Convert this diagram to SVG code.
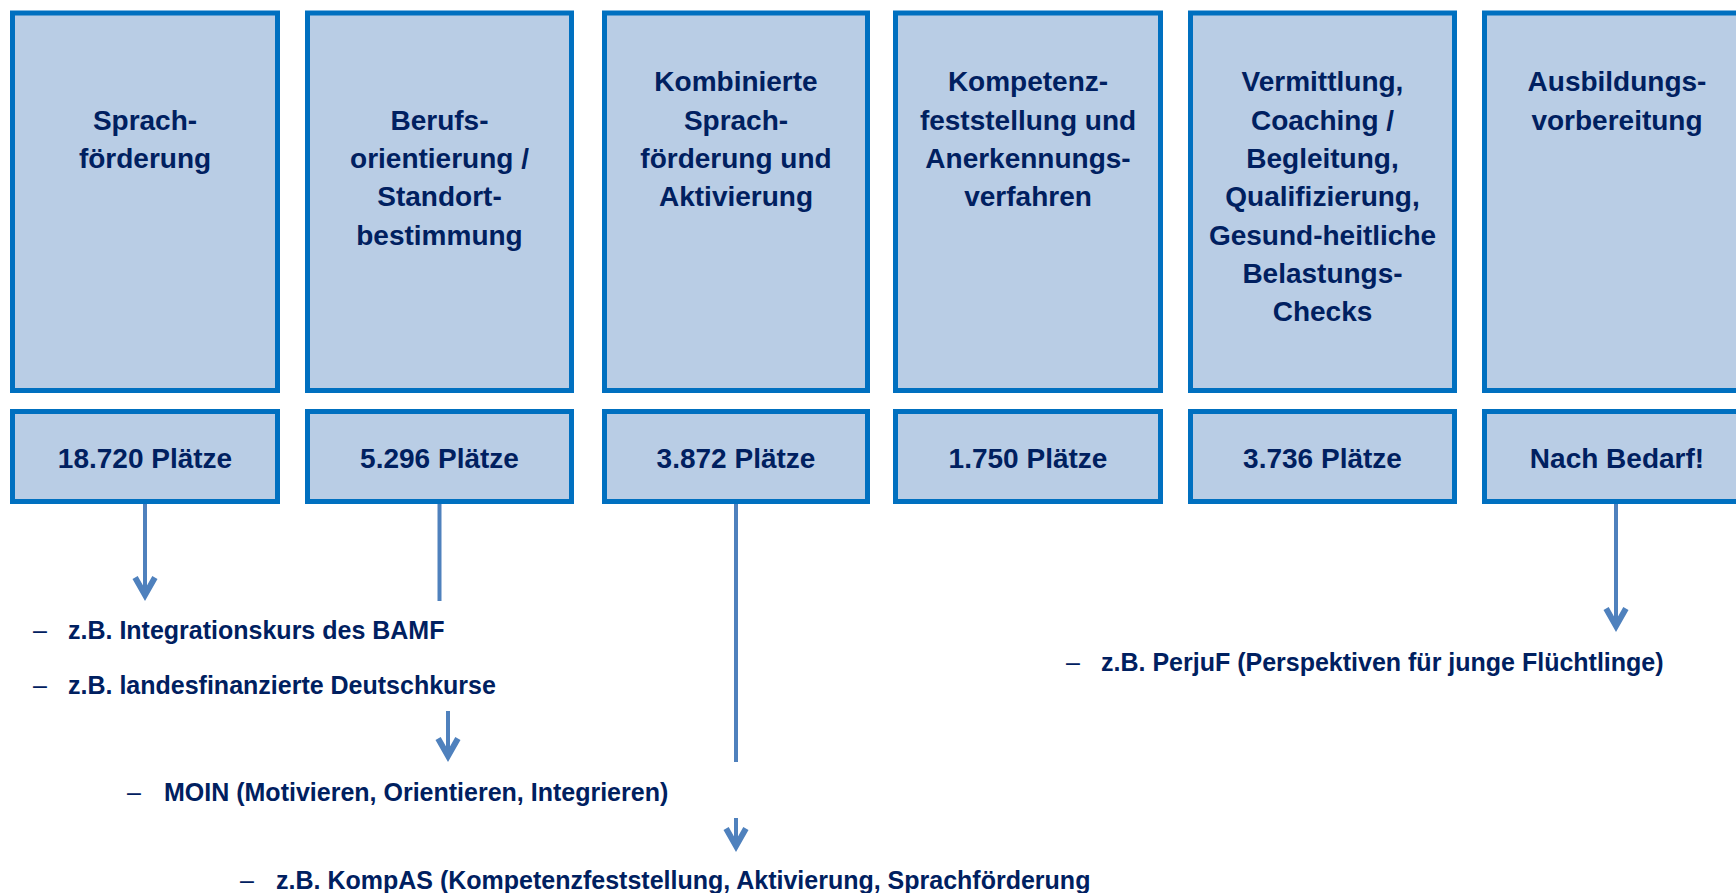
<svg xmlns="http://www.w3.org/2000/svg" width="1736" height="893" viewBox="0 0 1736 893">
  <style>
    .box { fill: #B9CDE5; stroke: #0070C0; stroke-width: 5; }
    .t { font-family: "Liberation Sans", Arial, sans-serif; font-weight: bold; font-size: 28px; fill: #002060; text-anchor: middle; }
    .li { font-family: "Liberation Sans", Arial, sans-serif; font-weight: bold; font-size: 25px; fill: #002060; }
    .dash { font-family: "Liberation Sans", Arial, sans-serif; font-weight: normal; font-size: 25px; fill: #002060; }
    .conn { stroke: #4F81BD; stroke-width: 4; fill: none; }
  </style>
  <defs>
    <marker id="arr" markerUnits="userSpaceOnUse" orient="auto" refX="-4" refY="0" markerWidth="30" markerHeight="30" overflow="visible">
      <polygon points="0,0 -22,-12.5 -25,-7.3 -12.1,0 -25,7.3 -22,12.5" fill="#4F81BD"/>
    </marker>
  </defs>
  <rect width="1736" height="893" fill="#FFFFFF"/>

  <g id="node-sprachfoerderung">
    <rect class="box" x="12.5" y="13" width="265" height="377.5"/>
    <text class="t" x="145" y="130">Sprach-</text>
    <text class="t" x="145" y="168">förderung</text>
    <rect class="box" x="12.5" y="411.5" width="265" height="90"/>
    <text class="t" x="145" y="468">18.720 Plätze</text>
  </g>

  <g id="node-berufsorientierung">
    <rect class="box" x="307.5" y="13" width="264" height="377.5"/>
    <text class="t" x="439.5" y="130">Berufs-</text>
    <text class="t" x="439.5" y="168">orientierung /</text>
    <text class="t" x="439.5" y="206">Standort-</text>
    <text class="t" x="439.5" y="245">bestimmung</text>
    <rect class="box" x="307.5" y="411.5" width="264" height="90"/>
    <text class="t" x="439.5" y="468">5.296 Plätze</text>
  </g>

  <g id="node-kombinierte">
    <rect class="box" x="604.5" y="13" width="263" height="377.5"/>
    <text class="t" x="736" y="91">Kombinierte</text>
    <text class="t" x="736" y="130">Sprach-</text>
    <text class="t" x="736" y="168">förderung und</text>
    <text class="t" x="736" y="206">Aktivierung</text>
    <rect class="box" x="604.5" y="411.5" width="263" height="90"/>
    <text class="t" x="736" y="468">3.872 Plätze</text>
  </g>

  <g id="node-kompetenz">
    <rect class="box" x="895.5" y="13" width="265" height="377.5"/>
    <text class="t" x="1028" y="91">Kompetenz-</text>
    <text class="t" x="1028" y="130">feststellung und</text>
    <text class="t" x="1028" y="168">Anerkennungs-</text>
    <text class="t" x="1028" y="206">verfahren</text>
    <rect class="box" x="895.5" y="411.5" width="265" height="90"/>
    <text class="t" x="1028" y="468">1.750 Plätze</text>
  </g>

  <g id="node-vermittlung">
    <rect class="box" x="1190.5" y="13" width="264" height="377.5"/>
    <text class="t" x="1322.5" y="91">Vermittlung,</text>
    <text class="t" x="1322.5" y="130">Coaching /</text>
    <text class="t" x="1322.5" y="168">Begleitung,</text>
    <text class="t" x="1322.5" y="206">Qualifizierung,</text>
    <text class="t" x="1322.5" y="245">Gesund-heitliche</text>
    <text class="t" x="1322.5" y="283">Belastungs-</text>
    <text class="t" x="1322.5" y="321">Checks</text>
    <rect class="box" x="1190.5" y="411.5" width="264" height="90"/>
    <text class="t" x="1322.5" y="468">3.736 Plätze</text>
  </g>

  <g id="node-ausbildung">
    <rect class="box" x="1484.5" y="13" width="265" height="377.5"/>
    <text class="t" x="1617" y="91">Ausbildungs-</text>
    <text class="t" x="1617" y="130">vorbereitung</text>
    <rect class="box" x="1484.5" y="411.5" width="265" height="90"/>
    <text class="t" x="1617" y="468">Nach Bedarf!</text>
  </g>

  <g id="connectors">
    <line class="conn" x1="145" y1="504" x2="145" y2="597" marker-end="url(#arr)"/>
    <line class="conn" x1="439.5" y1="504" x2="439.5" y2="601"/>
    <line class="conn" x1="448" y1="711" x2="448" y2="758" marker-end="url(#arr)"/>
    <line class="conn" x1="736" y1="504" x2="736" y2="762"/>
    <line class="conn" x1="736" y1="818" x2="736" y2="848" marker-end="url(#arr)"/>
    <line class="conn" x1="1616" y1="504" x2="1616" y2="628" marker-end="url(#arr)"/>
  </g>

  <g id="list-items">
    <text class="dash" x="33" y="639">–</text>
    <text class="li" x="68" y="639">z.B. Integrationskurs des BAMF</text>
    <text class="dash" x="33" y="694">–</text>
    <text class="li" x="68" y="694">z.B. landesfinanzierte Deutschkurse</text>
    <text class="dash" x="127" y="801">–</text>
    <text class="li" x="164" y="801">MOIN (Motivieren, Orientieren, Integrieren)</text>
    <text class="dash" x="240" y="889">–</text>
    <text class="li" x="276" y="889">z.B. KompAS (Kompetenzfeststellung, Aktivierung, Sprachförderung</text>
    <text class="dash" x="1066" y="671">–</text>
    <text class="li" x="1101" y="671">z.B. PerjuF (Perspektiven für junge Flüchtlinge)</text>
  </g>
</svg>
